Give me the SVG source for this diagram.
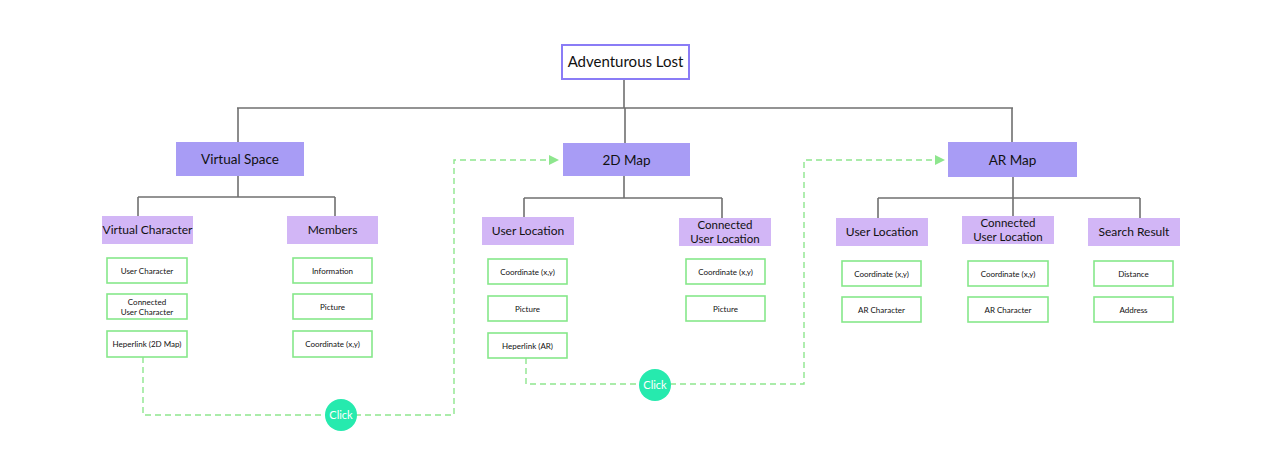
<svg xmlns="http://www.w3.org/2000/svg" width="1280" height="466" viewBox="0 0 1280 466">
<defs>
<style>
text{font-family:Lato,"Open Sans","Liberation Sans",sans-serif;fill:#111;text-anchor:middle}
.root rect{fill:#fff;stroke:#8a7cf6;stroke-width:2}
.root text{font-size:15px}
.l1 rect{fill:#a89cf5}
.l1 text{font-size:13.5px}
.l2 rect{fill:#d2b6f6}
.l2 text{font-size:12px}
.l2 text.two{font-size:11.5px}
.l3 rect{fill:#fff;stroke:#86e88a;stroke-width:1.6}
.l3 text{font-size:8px}
.tree{fill:none;stroke:#707070;stroke-width:1.6}
.dash{fill:none;stroke:#8ee68e;stroke-width:1.4;stroke-dasharray:6 4}
.click circle{fill:#26eaae}
.click text{fill:#fff;font-size:11px}
</style>
<marker id="ah" viewBox="0 0 10 10" refX="9" refY="5" markerWidth="10" markerHeight="10" markerUnits="userSpaceOnUse" orient="auto">
<path d="M0,0 L10,5 L0,10 Z" fill="#8ee68e"/>
</marker>
</defs>
<rect width="1280" height="466" fill="#fff"/>
<g id="connectors">
<path class="tree" d="M624,79 V108 M237,108 H1013 M238,108 V142 M625,108 V143 M1012,108 V142"/>
<path class="tree" d="M238,176 V197 M138,197 H335 M138,197 V216 M335,197 V216"/>
<path class="tree" d="M624,176 V198 M524,198 H722 M524,198 V217 M722,198 V218"/>
<path class="tree" d="M1013,177 V198 M878,198 H1140 M878,198 V218 M1013,198 V216 M1140,198 V218"/>
<path class="dash" d="M143,357 V415 H454 V160 H558" marker-end="url(#ah)"/>
<path class="dash" d="M526,358 V384 H804 V160 H944" marker-end="url(#ah)"/>
</g>
<g id="root" class="root"><rect x="562" y="45" width="127" height="34"/><text x="625.5" y="67">Adventurous Lost</text></g>
<g id="virtual-space" class="l1"><rect x="176" y="142" width="128" height="34"/><text x="240" y="164">Virtual Space</text></g>
<g id="map-2d" class="l1"><rect x="563" y="143" width="127" height="33"/><text x="626.5" y="164.5">2D Map</text></g>
<g id="ar-map" class="l1"><rect x="948" y="142" width="129" height="35"/><text x="1012.5" y="164.5">AR Map</text></g>
<g id="virtual-character" class="l2"><rect x="102" y="216" width="91" height="28"/><text x="147.5" y="234">Virtual Character</text></g>
<g id="members" class="l2"><rect x="287" y="216" width="91" height="28"/><text x="332.5" y="234">Members</text></g>
<g id="user-location-2d" class="l2"><rect x="482" y="217" width="92" height="28"/><text x="528" y="235">User Location</text></g>
<g id="connected-user-location-2d" class="l2"><rect x="679" y="218" width="92" height="28"/><text class="two" x="725" y="229">Connected</text><text class="two" x="725" y="242.5">User Location</text></g>
<g id="user-location-ar" class="l2"><rect x="836" y="218" width="92" height="28"/><text x="882" y="236">User Location</text></g>
<g id="connected-user-location-ar" class="l2"><rect x="962" y="216" width="92" height="28"/><text class="two" x="1008" y="227">Connected</text><text class="two" x="1008" y="240.5">User Location</text></g>
<g id="search-result" class="l2"><rect x="1088" y="218" width="92" height="28"/><text x="1134" y="236">Search Result</text></g>
<g id="user-character" class="l3"><rect x="107" y="258" width="80" height="25"/><text x="147" y="273.5">User Character</text></g>
<g id="connected-user-character" class="l3"><rect x="107" y="294" width="80" height="25"/><text x="147" y="305">Connected</text><text x="147" y="315">User Character</text></g>
<g id="heperlink-2d" class="l3"><rect x="107" y="331" width="80" height="26"/><text x="147" y="347">Heperlink (2D Map)</text></g>
<g id="information" class="l3"><rect x="293" y="258" width="79" height="25"/><text x="332.5" y="273.5">Information</text></g>
<g id="picture-members" class="l3"><rect x="293" y="294" width="79" height="25"/><text x="332.5" y="309.5">Picture</text></g>
<g id="coordinate-members" class="l3"><rect x="293" y="331" width="79" height="26"/><text x="332.5" y="347">Coordinate (x,y)</text></g>
<g id="coordinate-2d" class="l3"><rect x="488" y="259" width="79" height="25"/><text x="527.5" y="274.5">Coordinate (x,y)</text></g>
<g id="picture-2d" class="l3"><rect x="488" y="296" width="79" height="25"/><text x="527.5" y="311.5">Picture</text></g>
<g id="heperlink-ar" class="l3"><rect x="488" y="333" width="79" height="25"/><text x="527.5" y="348.5">Heperlink (AR)</text></g>
<g id="coordinate-connected-2d" class="l3"><rect x="686" y="259" width="79" height="25"/><text x="725.5" y="274.5">Coordinate (x,y)</text></g>
<g id="picture-connected-2d" class="l3"><rect x="686" y="296" width="79" height="25"/><text x="725.5" y="311.5">Picture</text></g>
<g id="coordinate-ar" class="l3"><rect x="842" y="261" width="79" height="25"/><text x="881.5" y="276.5">Coordinate (x,y)</text></g>
<g id="ar-character" class="l3"><rect x="842" y="297" width="79" height="25"/><text x="881.5" y="312.5">AR Character</text></g>
<g id="coordinate-connected-ar" class="l3"><rect x="968" y="261" width="80" height="25"/><text x="1008" y="276.5">Coordinate (x,y)</text></g>
<g id="ar-character-connected" class="l3"><rect x="968" y="297" width="80" height="25"/><text x="1008" y="312.5">AR Character</text></g>
<g id="distance" class="l3"><rect x="1094" y="261" width="79" height="25"/><text x="1133.5" y="276.5">Distance</text></g>
<g id="address" class="l3"><rect x="1094" y="297" width="79" height="25"/><text x="1133.5" y="312.5">Address</text></g>
<g id="click-1" class="click"><circle cx="341" cy="415" r="16"/><text x="341" y="419">Click</text></g>
<g id="click-2" class="click"><circle cx="655" cy="385" r="16"/><text x="655" y="389">Click</text></g>
</svg>
